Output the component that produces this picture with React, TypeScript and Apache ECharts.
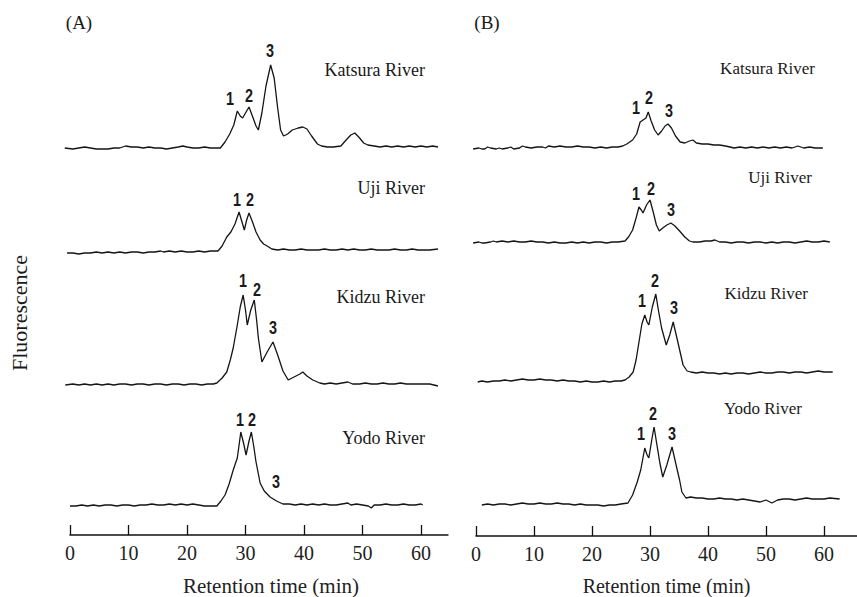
import React, { useEffect, useRef } from 'react';
import * as echarts from 'echarts';

// Retention-time tick labels (min)
const xTicks = [0, 10, 20, 30, 40, 50, 60];
const rivers = ['Katsura River', 'Uji River', 'Kidzu River', 'Yodo River'];
const peakNames = ['1', '2', '3'];

// Panel (A) traces: [retention time (min), fluorescence (a.u.)]
const katsuraA = [
  [-0.9, 0], [0.5, -1], [1.5, 0], [2.5, 1], [3.5, 0], [4.5, -1], [5.5, -1], [6.5, -1], [7.5, 0], [8.5, 0],
  [9.5, 2], [10.5, 1], [11.5, 1], [12.5, 0], [13.5, 1], [14.5, 0], [15.5, 0], [16.5, -1], [17.5, 0], [18.5, 1],
  [19.3, 2], [20, 1], [21, 0], [22, 0], [23, 1], [24, 0], [25, 0], [25.7, 0], [26.5, 6], [27.3, 14],
  [28, 23], [28.6, 37], [29.1, 32], [29.5, 30], [30, 35], [30.6, 41], [31.3, 30], [31.8, 22], [32.2, 18], [32.8, 35],
  [33.5, 62], [34.3, 83], [34.9, 70], [35.5, 40], [36, 18], [36.5, 12], [37.2, 14], [38, 18], [39, 20], [39.8, 21],
  [40.5, 19], [41.3, 12], [42.3, 4], [43, 2], [44, 1], [45, 1], [46.3, 2], [47.2, 8], [48, 13], [48.7, 15],
  [49.5, 10], [50.2, 5], [50.9, 3], [52, 2], [53, 1], [54, 2], [55, 1], [56, 2], [57, 1], [58, 2],
  [59, 1], [60, 2], [61, 1], [62, 2], [62.9, 1],
];
const ujiA = [
  [-0.5, -1], [0.5, -1], [1.5, -2], [2.5, -1], [3.5, -1], [4.5, 0], [5.5, -1], [6.5, 0], [7.5, -1], [8.5, 0],
  [9.5, -1], [10.5, 0], [11.5, 0], [12.5, -1], [13.5, 0], [14.5, 0], [15.5, 1], [16, 0], [17, 1], [18, 0],
  [19, 1], [20, 0], [21, 0], [22, 1], [23, 0], [24, 1], [25.3, 1], [26, 6], [26.8, 15], [27.5, 20],
  [28.2, 28], [28.9, 40], [29.4, 30], [29.8, 22], [30.2, 32], [30.6, 39], [31.2, 30], [31.8, 20], [32.5, 12], [33.1, 8],
  [33.7, 6], [34.5, 3], [35.5, 2], [36.5, 3], [37.5, 2], [38.5, 2], [39.5, 3], [40.5, 2], [41.5, 2], [42.5, 2],
  [43.5, 3], [44.5, 2], [45.5, 2], [46.5, 3], [47.5, 2], [48.5, 3], [49.5, 2], [50.5, 2], [51.5, 3], [52.5, 2],
  [53.5, 2], [54.5, 2], [55.5, 3], [56.5, 2], [57.5, 2], [58.5, 3], [59.5, 2], [60.5, 2], [61.5, 2], [62.9, 3],
];
const kidzuA = [
  [-0.8, 0], [0.5, 1], [1.5, 0], [2.5, 1], [3.5, 0], [4.5, 1], [5.5, 0], [6.5, 1], [7.5, 0], [8.5, 1],
  [9.5, 1], [10.5, 0], [11.5, 1], [12.5, 1], [13.5, 0], [14.5, 1], [15.5, 1], [16.5, 0], [17.5, 1], [18.5, 1],
  [19.5, 0], [20.5, 1], [21.5, 1], [22.5, 0], [23.5, 1], [24.5, 1], [25.1, 2], [26, 7], [26.8, 13], [27.4, 25],
  [27.9, 37], [28.6, 60], [29.1, 78], [29.6, 90], [30, 75], [30.3, 60], [30.9, 75], [31.5, 85], [31.9, 65], [32.2, 47],
  [32.8, 23], [33.7, 33], [34.7, 43], [35.5, 30], [36.4, 14], [37.3, 5], [38.3, 8], [39.3, 11], [39.8, 13], [40.5, 9],
  [41.5, 5], [42.7, 2], [43.5, 1], [44.5, 2], [45.5, 1], [46.5, 2], [47.5, 3], [48.3, 1], [49.5, 1], [50.5, 2],
  [51.5, 1], [52.5, 1], [53.5, 2], [54.5, 1], [55.5, 1], [56.5, 2], [57.5, 1], [58.5, 1], [59.5, 1], [60.5, 1],
  [61.5, 1], [62.9, -1],
];
const yodoA = [
  [0, 0], [1, 0], [2, 1], [3, 0], [4, 1], [5, 0], [6, 1], [7, 1], [8, 0], [9, 1],
  [10, 1], [11, 0], [12, 1], [13, 1], [14, 2], [15, 1], [16, 1], [17, 2], [18, 1], [19, 2],
  [20, 1], [21, 2], [22, 1], [23, 0], [24, 0], [25.1, 0], [25.8, 5], [26.5, 11], [27.2, 22], [27.9, 36],
  [28.6, 48], [29.2, 74], [29.7, 62], [30.1, 51], [30.6, 65], [31, 74], [31.4, 60], [31.8, 44], [32.2, 32], [32.5, 23],
  [33.2, 15], [34.2, 9], [35.3, 5], [36.4, 2], [37.5, 2], [38.5, 1], [39.5, 2], [40.5, 1], [41.5, 2], [42.5, 1],
  [43.5, 2], [44.5, 1], [45.5, 1], [46.5, 2], [47.5, 3], [48, 1], [49, 2], [50, 1], [51, 0], [51.5, -2],
  [52, 1], [53, 1], [54, 2], [55, 1], [56, 1], [57, 2], [58, 1], [59, 1], [60, 2], [60.3, 1],
];

// Panel (B) traces
const katsuraB = [
  [-0.5, -1], [0.5, 0], [1, -1], [1.5, -1], [2, 1], [2.5, 0], [3.5, -1], [4, 0], [4.5, -1], [5.5, 0],
  [6, 1], [6.5, -1], [7.5, 0], [8, 2], [8.5, 1], [9.5, 0], [10.5, 1], [11.5, 1], [12, 0], [12.5, 2],
  [13.5, 1], [14.5, 2], [15.5, 1], [16.5, 1], [17.5, 2], [18.5, 1], [19.5, 1], [20.5, 0], [21.5, 1], [22.5, 0],
  [23.5, 1], [24.5, 1], [25.3, 2], [26, 4], [27, 8], [27.7, 14], [28.3, 26], [28.8, 28], [29.3, 30], [29.7, 36],
  [30.2, 27], [30.8, 18], [31.4, 13], [32, 17], [32.6, 22], [33.1, 24], [33.7, 20], [34.4, 12], [35.2, 6], [36, 5],
  [36.8, 7], [37.4, 8], [38, 5], [39, 4], [40, 4], [41, 3], [42, 3], [43, 2], [43.8, 1], [44.5, 0],
  [45.5, 1], [46.5, 0], [47.5, 1], [48.5, 0], [49.5, 1], [50.5, 0], [51.5, 1], [52.5, 0], [53.5, 1], [54.5, 0],
  [55.5, 2], [56.5, 0], [57.5, 1], [58.5, 0], [59.8, 0],
];
const ujiB = [
  [-0.5, 0], [0.5, 1], [1, 0], [1.5, 0], [2.5, 1], [3, 2], [3.5, 1], [4.5, 2], [5.5, 1], [6.5, 2],
  [7.5, 1], [8.5, 1], [9.5, 2], [10.5, 1], [11.5, 1], [12.5, 0], [13.5, 1], [14.5, 0], [15.5, 0], [16.5, 1],
  [17.5, 0], [18.5, 1], [19.5, 0], [20.5, 1], [21.5, 1], [22.5, 0], [23.5, 1], [24.5, 1], [25.7, 2], [26.3, 6],
  [27, 13], [27.6, 25], [28.1, 36], [28.5, 33], [28.8, 30], [29.4, 38], [30, 43], [30.6, 30], [31.1, 18], [31.6, 12],
  [32.2, 15], [32.9, 18], [33.6, 20], [34.3, 17], [35.1, 12], [36, 6], [36.8, 2], [37.4, 1], [38.5, 1], [39.5, 2],
  [40.5, 2], [41.2, 3], [42, 1], [43, 1], [44, 0], [45, 1], [46, 1], [47, 0], [48, 1], [49, 1],
  [50, 0], [51, 1], [52, 0], [53, 1], [54, 1], [55, 0], [56, 1], [57, 2], [58, 1], [59, 1],
  [60, 2], [61, 1],
];
const kidzuB = [
  [0.3, 0], [1, 1], [2, 0], [3, 1], [4, 1], [5, 2], [6, 1], [7, 2], [8, 3], [9, 2],
  [10, 2], [11, 3], [12, 2], [13, 2], [14, 1], [15, 2], [16, 1], [17, 1], [18, 0], [19, 1],
  [20, 0], [21, 0], [22, 1], [23, 0], [24, 1], [25, 1], [25.7, 2], [26.4, 5], [27.1, 10], [27.6, 22],
  [28.1, 40], [28.6, 58], [29.1, 67], [29.5, 60], [29.8, 57], [30.4, 75], [31, 88], [31.5, 70], [32, 54], [32.8, 37],
  [33.4, 47], [34, 60], [34.8, 40], [35.7, 17], [36.4, 11], [37, 10], [38, 9], [39, 10], [40, 9], [41, 9],
  [42, 8], [43, 9], [44, 8], [45, 9], [46, 9], [47, 8], [48, 9], [49, 10], [50, 9], [51, 9],
  [52, 10], [53, 10], [54, 9], [55, 10], [56, 10], [57, 9], [58, 10], [59, 11], [60, 10], [61.5, 10],
];
const yodoB = [
  [1, 0], [2, 1], [3, 0], [4, 1], [5, 1], [6, 0], [7, 1], [8, 2], [9, 1], [10, 1],
  [11, 2], [12, 1], [13, 1], [14, 2], [15, 1], [16, 1], [17, 0], [18, 1], [19, 0], [20, 0],
  [21, 0], [22, -1], [23, 0], [24, 0], [25, 1], [26.2, 2], [27, 10], [27.8, 23], [28.4, 35], [29.1, 57],
  [29.5, 50], [29.8, 47], [30.3, 65], [30.7, 78], [31.2, 60], [31.7, 42], [32.2, 28], [32.9, 40], [33.8, 58], [34.5, 40],
  [35.1, 25], [35.5, 13], [36.2, 7], [37, 8], [38, 7], [39, 7], [40, 6], [41, 6], [42, 7], [43, 6],
  [44, 6], [45, 5], [46, 6], [47, 5], [48, 4], [49, 3], [50, 5], [51, 2], [52, 5], [53, 6],
  [54, 6], [55, 5], [56, 6], [57, 7], [58, 6], [59, 6], [60, 6], [61, 7], [62.7, 6],
];

const tracesA = [katsuraA, ujiA, kidzuA, yodoA];
const tracesB = [katsuraB, ujiB, kidzuB, yodoB];

// Layout (pixels)
const W = 857;
const H = 597;
const baselinesA = [148, 252, 385, 506];
const baselinesB = [148, 243, 382, 505];
const riverLabelPosA = [[425, 70], [425, 188], [425, 297], [425, 438]];
const riverLabelPosB = [[815, 68], [812, 177], [808, 293], [802, 408]];
const peakLabelPosA = [
  [[230, 98], [249, 95], [270, 50]],
  [[237, 199], [250, 199]],
  [[243, 280], [257, 289], [273, 327]],
  [[240, 419], [252, 419], [276, 481]],
];
const peakLabelPosB = [
  [[636, 107], [649, 97], [669, 110]],
  [[636, 193], [651, 188], [671, 209]],
  [[642, 300], [655, 280], [674, 307]],
  [[641, 433], [653, 413], [672, 433]],
];

const SERIF = 'Liberation Serif';
const BOLD_SANS = 'Liberation Sans';

export default function App() {
  const ref = useRef<HTMLDivElement>(null);
  useEffect(() => {
    if (!ref.current) return;
    const chart = echarts.init(ref.current, undefined, { renderer: 'svg' });

    const grids: any[] = [];
    const xAxes: any[] = [];
    const yAxes: any[] = [];
    const series: any[] = [];

    const panels = [
      { traces: tracesA, baselines: baselinesA, x0: 70, ppm: 5.85, tmin: -2, tmax: 64, axisMax: 64.6, namePad: 24, nameSize: 21 },
      { traces: tracesB, baselines: baselinesB, x0: 476, ppm: 5.8, tmin: -2, tmax: 64, axisMax: 65.7, namePad: 0, nameSize: 20 },
    ];

    panels.forEach((p) => {
      p.traces.forEach((data, i) => {
        const gi = grids.length;
        grids.push({
          left: p.x0 + p.tmin * p.ppm,
          width: (p.tmax - p.tmin) * p.ppm,
          top: p.baselines[i] - 100,
          height: 110,
        });
        xAxes.push({ type: 'value', gridIndex: gi, min: p.tmin, max: p.tmax, show: false });
        yAxes.push({ type: 'value', gridIndex: gi, min: -10, max: 100, show: false });
        series.push({
          type: 'line',
          xAxisIndex: gi,
          yAxisIndex: gi,
          data,
          showSymbol: false,
          symbol: 'none',
          smooth: false,
          lineStyle: { color: '#151515', width: 1.3 },
        });
      });
    });

    panels.forEach((p) => {
      const gi = grids.length;
      grids.push({ left: p.x0, width: p.axisMax * p.ppm, top: 500, height: 36 });
      xAxes.push({
        type: 'value',
        gridIndex: gi,
        min: 0,
        max: p.axisMax,
        splitLine: { show: false },
        axisLine: { show: true, lineStyle: { color: '#111', width: 1.5 } },
        axisTick: { show: true, inside: true, length: 10, customValues: xTicks, lineStyle: { color: '#111', width: 1.3 } },
        axisLabel: { customValues: xTicks, fontFamily: SERIF, fontSize: 20, color: '#222', margin: 8 },
        name: 'Retention time (min)',
        nameLocation: 'middle',
        nameGap: 40,
        nameTextStyle: { fontFamily: SERIF, fontSize: p.nameSize, color: '#222', padding: [0, 0, 0, p.namePad] },
      });
      yAxes.push({ type: 'value', gridIndex: gi, min: 0, max: 1, show: false });
    });

    const txt = (x: number, y: number, text: string, family: string, size: number, align: string, extra: any = {}, weight = 'normal') => ({
      type: 'text',
      x,
      y,
      ...extra,
      style: { text, fontFamily: family, fontSize: size, fontWeight: weight, fill: '#1a1a1a', textAlign: align, textVerticalAlign: 'middle' },
    });

    const elements: any[] = [];
    elements.push(txt(79, 22, '(A)', SERIF, 19, 'center'));
    elements.push(txt(487, 22, '(B)', SERIF, 19, 'center'));
    elements.push(txt(19, 313, 'Fluorescence', SERIF, 22, 'center', { rotation: Math.PI / 2 }));
    rivers.forEach((r, i) => {
      elements.push(txt(riverLabelPosA[i][0], riverLabelPosA[i][1], r, SERIF, 18, 'right'));
      elements.push(txt(riverLabelPosB[i][0], riverLabelPosB[i][1], r, SERIF, 17, 'right'));
    });
    [peakLabelPosA, peakLabelPosB].forEach((panel) => {
      panel.forEach((trace) => {
        trace.forEach((pos, k) => {
          elements.push(txt(pos[0], pos[1], peakNames[k], BOLD_SANS, 18, 'center', { scaleX: 0.8 }, 'bold'));
        });
      });
    });

    chart.setOption({
      animation: false,
      backgroundColor: '#ffffff',
      grid: grids,
      xAxis: xAxes,
      yAxis: yAxes,
      series,
      graphic: { elements },
    });
    return () => chart.dispose();
  }, []);
  return <div ref={ref} style={{ position: 'absolute', left: 0, top: 0, width: W, height: H }} />;
}
